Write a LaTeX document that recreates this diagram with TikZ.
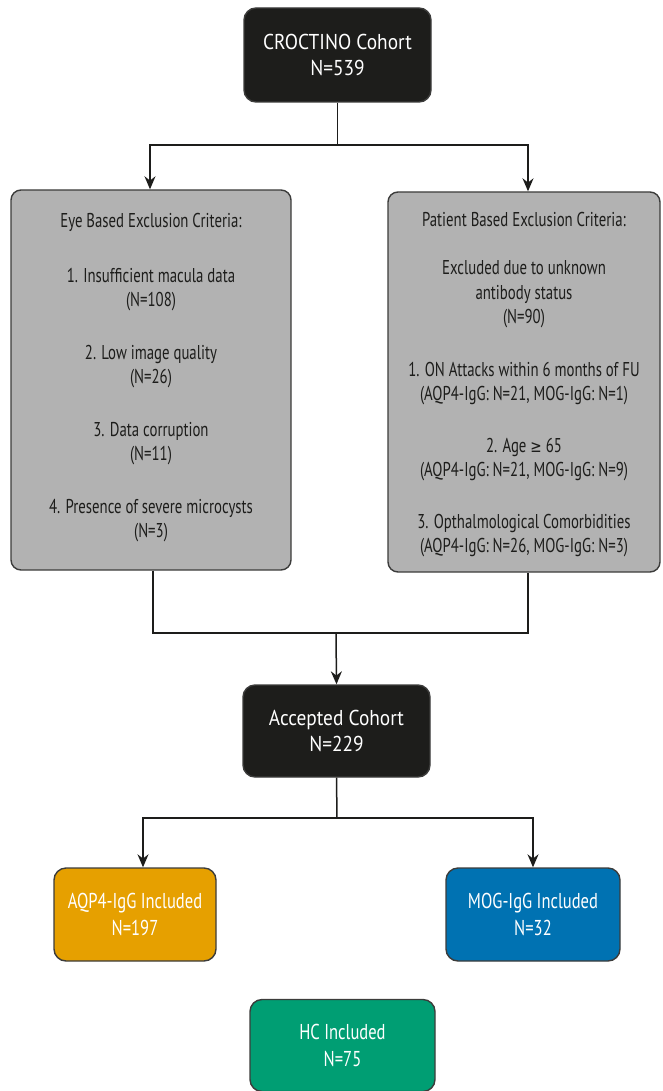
\documentclass[tikz,border=0pt]{standalone}
\usepackage{fontspec}
\setmainfont{PT Sans}
\newfontfamily\grayfont{PT Sans}[FakeStretch=0.74]
\newfontfamily\darkfont{PT Sans}[FakeStretch=0.9]
\newfontfamily\colfont{PT Sans}[FakeStretch=0.77]
\newfontfamily\symfont{DejaVu Sans}[FakeStretch=0.8]
\usetikzlibrary{arrows.meta}
\definecolor{boxblack}{HTML}{1D1D1B}
\definecolor{boxgray}{HTML}{B2B2B2}
\definecolor{edgegray}{HTML}{3C3C3B}
\definecolor{cohorange}{HTML}{E6A000}
\definecolor{cohblue}{HTML}{0072B2}
\definecolor{cohgreen}{HTML}{009E73}
\tikzset{
  base/.style={draw=edgegray, line width=1.4pt, rounded corners=12pt, align=center, inner sep=0pt},
  darkbox/.style={base, fill=boxblack, text=white, font=\darkfont\fontsize{21.5}{26}\selectfont},
  colbox/.style={base, text=white, font=\colfont\fontsize{21.5}{27}\selectfont},
  critbox/.style={base, fill=boxgray, text=boxblack, rounded corners=10pt, font=\grayfont\fontsize{20}{24.5}\selectfont},
  conn/.style={draw=boxblack, line width=1.5pt},
  arr/.style={conn, -{Stealth[length=13pt,width=11pt]}}
}
\begin{document}
\begin{tikzpicture}[x=1pt,y=-1pt]
\useasboundingbox (0,0) rectangle (662,1091);
\node[darkbox, minimum width=187pt, minimum height=94pt] (top) at (337.5,55) {CROCTINO Cohort\\N=539};
\node[critbox, minimum width=280pt, minimum height=380pt] (eye) at (151,380)
 {Eye Based Exclusion Criteria:\\[30pt]
  1. Insufficient macula data\\(N=108)\\[28pt]
  2. Low image quality\\(N=26)\\[28pt]
  3. Data corruption\\(N=11)\\[28pt]
  4. Presence of severe microcysts\\(N=3)\\[-23pt]\strut};
\node[critbox, minimum width=272pt, minimum height=380pt] (pat) at (524,382)
 {\strut\\[-22pt]Patient Based Exclusion Criteria:\\[24pt]
  Excluded due to unknown\\antibody status\\(N=90)\\[28pt]
  1. ON Attacks within 6 months of FU\\(AQP4-IgG: N=21, MOG-IgG: N=1)\\[27pt]
  2. Age {\symfont\fontsize{17}{24.5}\selectfont ≥} 65\\(AQP4-IgG: N=21, MOG-IgG: N=9)\\[27pt]
  3. Opthalmological Comorbidities\\(AQP4-IgG: N=26, MOG-IgG: N=3)};
\node[darkbox, minimum width=187pt, minimum height=92pt] (acc) at (336.5,731) {Accepted Cohort\\N=229};
\node[colbox, fill=cohorange, minimum width=162pt, minimum height=93pt] (aqp) at (135,914.5) {AQP4-IgG Included\\N=197};
\node[colbox, fill=cohblue, minimum width=174pt, minimum height=93pt] (mog) at (533,914.5) {MOG-IgG Included\\N=32};
\node[colbox, fill=cohgreen, minimum width=185pt, minimum height=92pt] (hc) at (342.5,1045.5) {HC Included\\N=75};
\coordinate (j1) at (337.5,145);
\coordinate (j2) at (336,633);
\coordinate (j3) at (337,818);
\draw[conn] (top.south) -- (j1);
\draw[arr] (j1) -| ([xshift=-1pt]eye.north);
\draw[arr] (j1) -| ([xshift=4pt]pat.north);
\draw[conn] ([xshift=2pt]eye.south) |- (j2) -| ([xshift=4pt]pat.south);
\draw[arr] (j2) -- (acc.north);
\draw[conn] (acc.south) -- (j3);
\draw[arr] (j3) -| ([xshift=8pt]aqp.north);
\draw[arr] (j3) -| (mog.north);
\end{tikzpicture}
\end{document}
